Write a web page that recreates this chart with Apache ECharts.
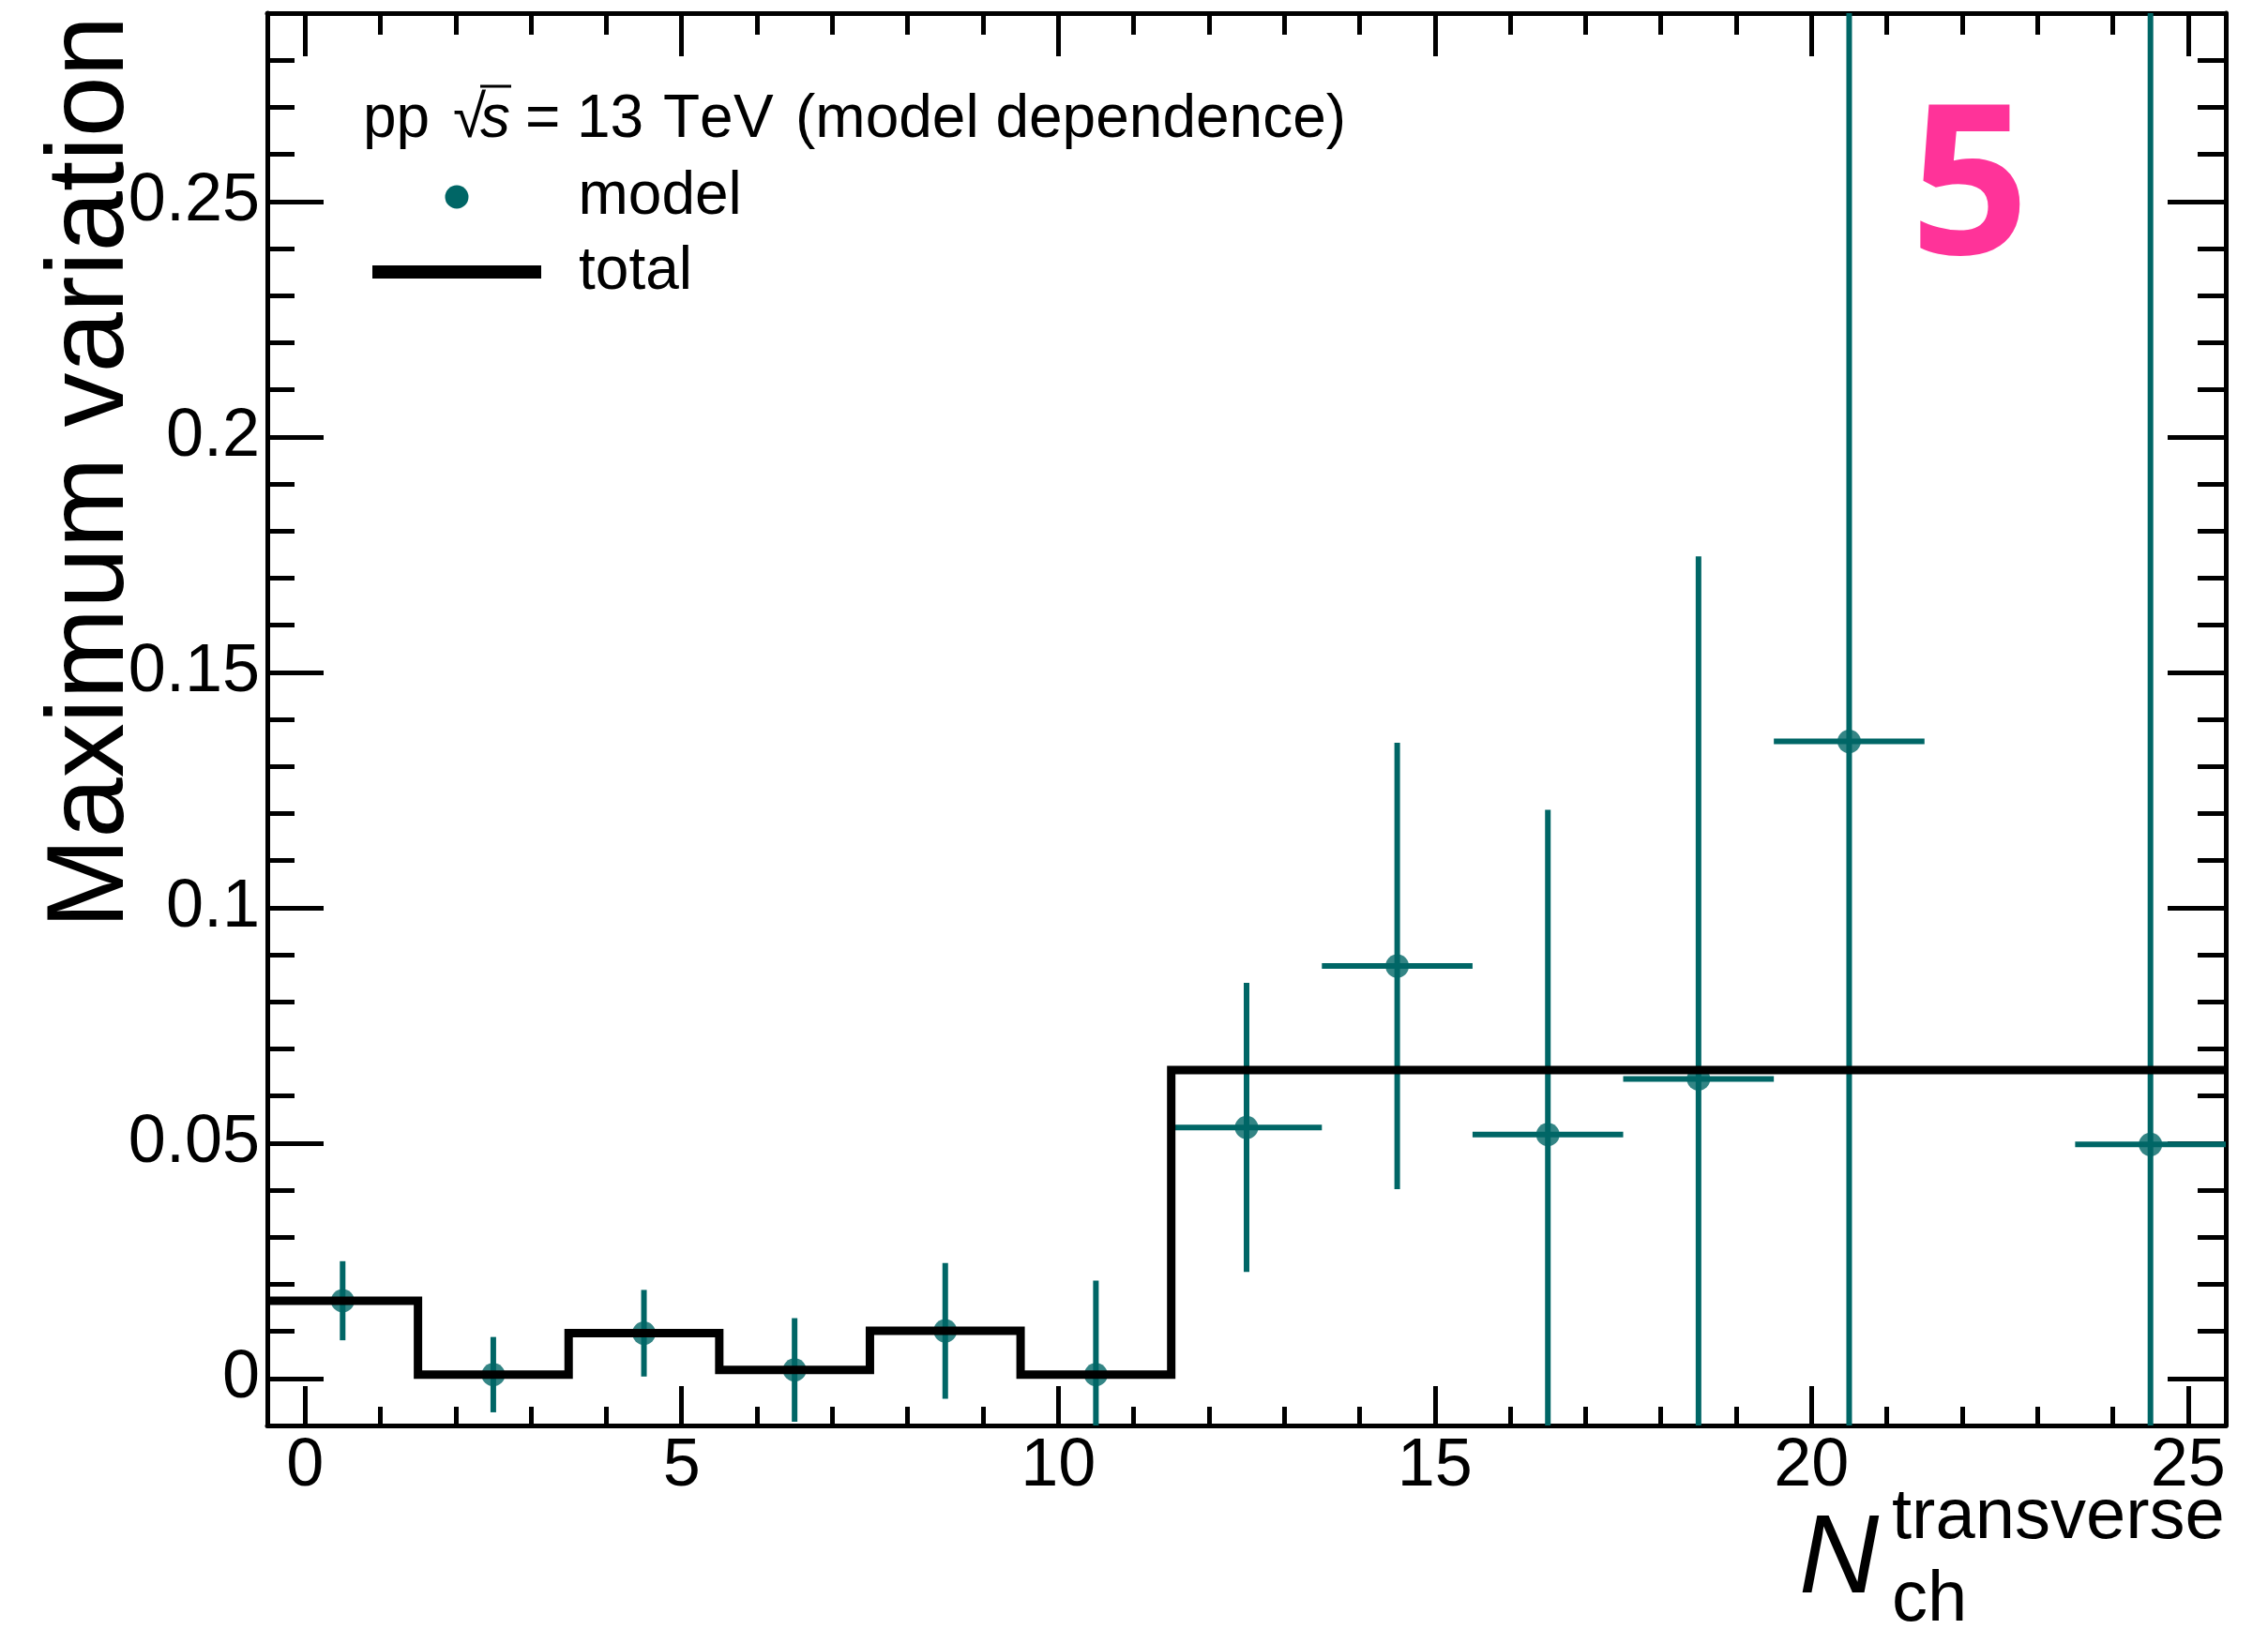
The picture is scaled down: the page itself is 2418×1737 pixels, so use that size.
<!DOCTYPE html>
<html><head><meta charset="utf-8">
<script src="https://cdn.jsdelivr.net/npm/echarts@6/dist/echarts.min.js"></script>
<style>html,body{margin:0;padding:0;background:#fff}#c{width:2418px;height:1737px}</style>
</head><body><div id="c"></div>
<script>
// ---- data ----
const pointX      = [0.5, 2.5, 4.5, 6.5, 8.5, 10.5, 12.5, 14.5, 16.5, 18.5, 20.5, 24.5];
const modelValues = [0.0165, 0.0008, 0.0096, 0.0018, 0.0101, 0.0008, 0.0533, 0.0876, 0.0518, 0.0636, 0.1353, 0.0497];
const modelErrY   = [0.0084, 0.0080, 0.0092, 0.0110, 0.0144, 0.0200, 0.0307, 0.0474, 0.0690, 0.1110, 0.2000, 0.3000];
const modelErrX   = [1, 1, 1, 1, 1, 1, 1, 1, 1, 1, 1, 1];
const binEdges    = [-0.5, 1.5, 3.5, 5.5, 7.5, 9.5, 11.5, 25.5];
const totalValues = [0.0165, 0.0008, 0.0096, 0.0018, 0.0101, 0.0008, 0.0655];
const xMajorTicks = [0, 5, 10, 15, 20, 25];
const xMinorTicks = [0,1,2,3,4,5,6,7,8,9,10,11,12,13,14,15,16,17,18,19,20,21,22,23,24,25];
const yMajorTicks = [0, 0.05, 0.1, 0.15, 0.2, 0.25];
const yMinorTicks = [0,0.01,0.02,0.03,0.04,0.05,0.06,0.07,0.08,0.09,0.1,0.11,0.12,0.13,0.14,0.15,0.16,0.17,0.18,0.19,0.2,0.21,0.22,0.23,0.24,0.25,0.26,0.27,0.28];
const xRange = [-0.5, 25.5];
const yRange = [-0.01, 0.29];

const TEAL = '#006666';
const FONT = 'Liberation Sans';

const errData = pointX.map((x, i) => [x, modelValues[i], modelErrX[i], modelErrY[i]]);
const ptData = pointX.map((x, i) => [x, modelValues[i]]);
const histData = binEdges.map((e, i) => [e, totalValues[Math.min(i, totalValues.length - 1)]]);

function xAx(pos, ticks, len, labels, line) {
  return {
    type: 'value', gridIndex: 0, position: pos, min: xRange[0], max: xRange[1],
    axisLine: { show: line, onZero: false, lineStyle: { color: '#000', width: 5 } },
    axisTick: { show: true, inside: true, length: len, customValues: ticks, lineStyle: { color: '#000', width: 5 } },
    axisLabel: labels ? { show: true, customValues: labels, margin: 8, fontSize: 72, fontFamily: FONT, color: '#000', hideOverlap: false } : { show: false },
    splitLine: { show: false }, minorTick: { show: false }
  };
}
function yAx(pos, ticks, len, labels, line) {
  return {
    type: 'value', gridIndex: 0, position: pos, min: yRange[0], max: yRange[1],
    axisLine: { show: line, onZero: false, lineStyle: { color: '#000', width: 5 } },
    axisTick: { show: true, inside: true, length: len, customValues: ticks, lineStyle: { color: '#000', width: 5 } },
    axisLabel: labels ? { show: true, customValues: labels, margin: 8, fontSize: 72, fontFamily: FONT, color: '#000', hideOverlap: false } : { show: false },
    splitLine: { show: false }, minorTick: { show: false }
  };
}

const chart = echarts.init(document.getElementById('c'), null, { renderer: 'canvas' });
chart.setOption({
  backgroundColor: '#fff',
  animation: false,
  grid: { left: 285, top: 14, right: 45, bottom: 217, containLabel: false },
  xAxis: [
    xAx('bottom', xMajorTicks, 42, xMajorTicks, true),
    xAx('bottom', xMinorTicks, 20, null, false),
    xAx('top', xMajorTicks, 46, null, true),
    xAx('top', xMinorTicks, 23, null, false)
  ],
  yAxis: [
    yAx('left', yMajorTicks, 60, yMajorTicks, true),
    yAx('left', yMinorTicks, 29, null, false),
    yAx('right', yMajorTicks, 62, null, true),
    yAx('right', yMinorTicks, 30, null, false)
  ],
  legend: [
    {
      data: [{ name: 'model', icon: 'circle', itemStyle: { color: TEAL, borderWidth: 0 } }],
      left: 474.5, top: 178, padding: 0, itemWidth: 25, itemHeight: 25, selectedMode: false,
      textStyle: { fontSize: 64, fontFamily: FONT, color: '#000', padding: [0, 0, 0, 112] }
    },
    {
      data: [{ name: 'total', icon: 'rect', itemStyle: { color: '#000', borderWidth: 0 } }],
      left: 397, top: 258, padding: 0, itemWidth: 180, itemHeight: 14, selectedMode: false,
      textStyle: { fontSize: 64, fontFamily: FONT, color: '#000', padding: [0, 0, 0, 35] }
    }
  ],
  series: [
    {
      name: 'model', type: 'custom', xAxisIndex: 0, yAxisIndex: 0, z: 3,
      data: errData,
      encode: { x: 0, y: 1 },
      renderItem: function (params, api) {
        const cs = params.coordSys;
        const clampY = v => Math.max(cs.y, Math.min(cs.y + cs.height, v));
        const clampX = v => Math.max(cs.x, Math.min(cs.x + cs.width, v));
        const x = api.value(0), y = api.value(1), ex = api.value(2), ey = api.value(3);
        const top = api.coord([x, y + ey]);
        const bot = api.coord([x, y - ey]);
        const lft = api.coord([x - ex, y]);
        const rgt = api.coord([x + ex, y]);
        return {
          type: 'group',
          children: [
            { type: 'line', shape: { x1: top[0], y1: clampY(top[1]), x2: bot[0], y2: clampY(bot[1]) }, style: { stroke: TEAL, lineWidth: 6 } },
            { type: 'line', shape: { x1: clampX(lft[0]), y1: lft[1], x2: clampX(rgt[0]), y2: rgt[1] }, style: { stroke: TEAL, lineWidth: 6 } }
          ]
        };
      }
    },
    {
      name: 'model', type: 'scatter', xAxisIndex: 0, yAxisIndex: 0, z: 4,
      data: ptData, symbol: 'circle', symbolSize: 25,
      itemStyle: { color: TEAL }
    },
    {
      name: 'total', type: 'line', xAxisIndex: 0, yAxisIndex: 0, z: 5,
      data: histData, step: 'end', showSymbol: false, symbol: 'none',
      lineStyle: { color: '#000', width: 9, cap: 'butt', join: 'miter' },
      itemStyle: { color: '#000' }
    }
  ],
  graphic: [
    // header: pp sqrt(s) = 13 TeV (model dependence)
    { type: 'text', x: 387, y: 128, style: { text: 'pp', font: '64px "Liberation Sans"', fill: '#000', textAlign: 'left', textVerticalAlign: 'middle' } },
    { type: 'text', x: 483, y: 128, style: { text: '\u221A', font: '64px "Liberation Sans"', fill: '#000', textAlign: 'left', textVerticalAlign: 'middle' } },
    { type: 'text', x: 512, y: 128, style: { text: 's', font: 'italic 64px "Liberation Sans"', fill: '#000', textAlign: 'left', textVerticalAlign: 'middle' } },
    { type: 'line', shape: { x1: 512, y1: 92, x2: 545, y2: 92 }, style: { stroke: '#000', lineWidth: 3 } },
    { type: 'text', x: 560, y: 128, style: { text: '=', font: '64px "Liberation Sans"', fill: '#000', textAlign: 'left', textVerticalAlign: 'middle' } },
    { type: 'text', x: 615, y: 128, style: { text: '13', font: '64px "Liberation Sans"', fill: '#000', textAlign: 'left', textVerticalAlign: 'middle' } },
    { type: 'text', x: 707, y: 128, style: { text: 'T', font: '64px "Liberation Sans"', fill: '#000', textAlign: 'left', textVerticalAlign: 'middle' } },
    { type: 'text', x: 746, y: 128, style: { text: 'e', font: '64px "Liberation Sans"', fill: '#000', textAlign: 'left', textVerticalAlign: 'middle' } },
    { type: 'text', x: 782, y: 128, style: { text: 'V', font: '64px "Liberation Sans"', fill: '#000', textAlign: 'left', textVerticalAlign: 'middle' } },
    { type: 'text', x: 848, y: 128, style: { text: '(model dependence)', font: '64px "Liberation Sans"', fill: '#000', textAlign: 'left', textVerticalAlign: 'middle' } },
    // big pink label
    { type: 'text', x: 2100, y: 208, style: { text: '5', font: 'bold 222px "Noto Sans"', fill: '#ff3399', textAlign: 'center', textVerticalAlign: 'middle' } },
    // y axis title
    { type: 'text', x: 99, y: 17, rotation: Math.PI / 2, style: { text: 'Maximum variation', font: '116px "Liberation Sans"', fill: '#000', textAlign: 'right', textVerticalAlign: 'middle' } },
    // x axis title
    { type: 'text', x: 1918, y: 1665, style: { text: 'N', font: 'italic 118px "Liberation Sans"', fill: '#000', textAlign: 'left', textVerticalAlign: 'middle' } },
    { type: 'text', x: 2017, y: 1619, style: { text: 'transverse', font: '76px "Liberation Sans"', fill: '#000', textAlign: 'left', textVerticalAlign: 'middle' } },
    { type: 'text', x: 2017, y: 1707, style: { text: 'ch', font: '76px "Liberation Sans"', fill: '#000', textAlign: 'left', textVerticalAlign: 'middle' } }
  ]
});
</script>
</body></html>
